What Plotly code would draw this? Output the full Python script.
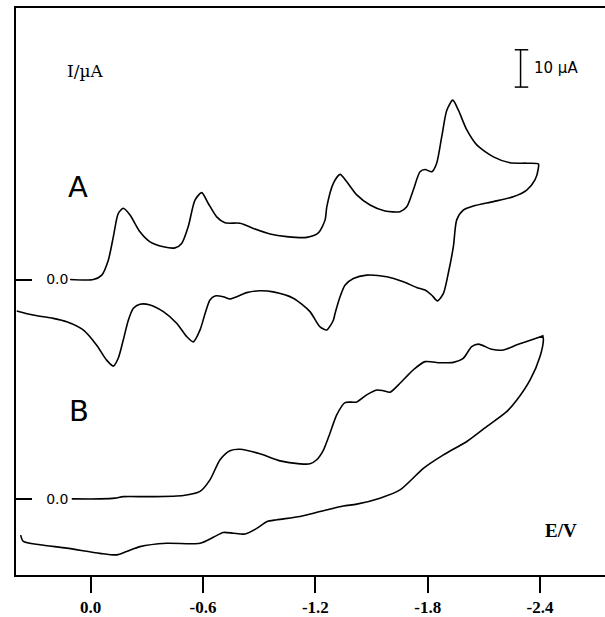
import plotly.graph_objects as go

# ---- Data (E in V, I in µA relative to each trace's own zero) ----
A_fwd_E = [0.11, -0.014, -0.059, -0.094, -0.121, -0.147, -0.174, -0.210, -0.263, -0.317,
           -0.388, -0.450, -0.486, -0.521, -0.557, -0.593, -0.628, -0.673, -0.717, -0.798,
           -0.869, -0.958, -1.047, -1.154, -1.216, -1.252, -1.261, -1.296, -1.332, -1.368,
           -1.421, -1.492, -1.572, -1.652, -1.688, -1.723, -1.759, -1.786, -1.822, -1.848,
           -1.875, -1.902, -1.934, -1.964, -2.009, -2.062, -2.151, -2.240, -2.329, -2.391]
A_fwd_I = [0.0, 0.0, 1.2, 5.2, 11.5, 17.7, 19.1, 17.3, 12.8, 10.1,
           8.8, 8.5, 9.7, 14.2, 21.3, 23.3, 20.4, 16.8, 15.2, 15.1,
           13.7, 12.2, 11.5, 11.3, 12.5, 16.0, 19.5, 25.8, 28.2, 26.2,
           22.7, 20.0, 18.4, 18.2, 19.5, 24.0, 28.9, 29.5, 28.9, 31.2,
           38.3, 45.4, 48.1, 45.4, 40.1, 36.1, 32.9, 31.3, 31.2, 31.0]

A_rev_E = [-2.391, -2.373, -2.329, -2.257, -2.151, -2.044, -1.990, -1.955, -1.937, -1.910,
           -1.884, -1.852, -1.822, -1.786, -1.741, -1.670, -1.581, -1.474, -1.403, -1.358,
           -1.332, -1.305, -1.296, -1.261, -1.225, -1.171, -1.082, -0.975, -0.904, -0.833,
           -0.780, -0.744, -0.708, -0.664, -0.637, -0.611, -0.584, -0.548, -0.513, -0.459,
           -0.388, -0.317, -0.263, -0.228, -0.201, -0.174, -0.147, -0.121, -0.085, -0.032,
           0.040, 0.128, 0.200, 0.307, 0.395]
A_rev_I = [29.8, 26.7, 24.0, 22.2, 20.9, 19.7, 18.6, 16.0, 8.8, 1.7,
           -3.7, -5.7, -4.2, -2.8, -2.1, -0.6, 0.75, 1.2, 0.3, -1.5,
           -4.6, -9.1, -10.9, -13.5, -12.7, -8.6, -5.0, -3.3, -3.0, -3.5,
           -4.6, -5.2, -4.6, -4.4, -5.5, -9.1, -13.5, -16.7, -15.3, -11.7,
           -8.6, -6.8, -6.6, -7.7, -10.9, -16.2, -21.1, -23.2, -21.6, -17.6,
           -13.5, -11.3, -10.4, -9.5, -8.4]

B_fwd_E = [0.101, -0.050, -0.130, -0.174, -0.317, -0.495, -0.584, -0.637, -0.691, -0.744,
           -0.798, -0.904, -1.011, -1.118, -1.171, -1.207, -1.243, -1.278, -1.314, -1.358,
           -1.421, -1.474, -1.528, -1.563, -1.599, -1.652, -1.723, -1.786, -1.866, -1.937,
           -1.990, -2.035, -2.071, -2.142, -2.204, -2.276, -2.364, -2.415]
B_fwd_I = [0.0, 0.0, 0.2, 0.6, 0.6, 0.9, 2.0, 5.1, 10.5, 12.9,
           13.3, 12.1, 10.2, 9.4, 9.4, 10.5, 13.1, 17.6, 22.5, 25.8,
           26.0, 27.9, 29.2, 29.0, 28.6, 31.0, 34.6, 36.8, 36.5, 36.6,
           37.7, 40.8, 41.5, 40.1, 39.9, 41.3, 42.8, 43.7]

B_rev_E = [-2.415, -2.418, -2.400, -2.347, -2.276, -2.222, -2.115, -2.009, -1.884, -1.777,
           -1.652, -1.545, -1.421, -1.349, -1.225, -1.118, -0.994, -0.940, -0.887, -0.824,
           -0.762, -0.708, -0.655, -0.584, -0.406, -0.263, -0.192, -0.139, -0.050, 0.128,
           0.271, 0.360, 0.374]
B_rev_I = [43.7, 42.6, 38.2, 31.9, 26.5, 23.4, 19.4, 15.4, 11.8, 8.2,
           2.4, 0.2, -1.4, -1.9, -3.4, -4.7, -5.6, -6.1, -7.9, -9.4,
           -9.2, -9.0, -10.3, -11.9, -11.9, -12.8, -14.1, -15.0, -14.6, -13.2,
           -12.3, -11.4, -9.7]

A_offset = 58.8   # µA: vertical offset of trace A above trace B
x_ticks = [0.0, -0.6, -1.2, -1.8, -2.4]
x_ticktext = ["0.0", "-0.6", "-1.2", "-1.8", "-2.4"]
y_ticks = [0.0, A_offset]
y_ticktext = ["0.0", "0.0"]
scale_bar_uA = 10

A_E = A_fwd_E + A_rev_E
A_I = [v + A_offset for v in A_fwd_I + A_rev_I]
B_E = B_fwd_E + B_rev_E
B_I = B_fwd_I + B_rev_I

fig = go.Figure()
line = dict(color="black", width=1.6, shape="spline", smoothing=0.7)
fig.add_trace(go.Scatter(x=A_E, y=A_I, mode="lines", line=line, name="A", showlegend=False,
                         hoverinfo="skip"))
fig.add_trace(go.Scatter(x=B_E, y=B_I, mode="lines", line=line, name="B", showlegend=False,
                         hoverinfo="skip"))

# scale bar (10 µA) near top right
sb_x = -2.296
sb_top = 120.4
fig.add_shape(type="line", x0=sb_x, x1=sb_x, y0=sb_top - scale_bar_uA, y1=sb_top,
              line=dict(color="black", width=1.5))
for yy in (sb_top, sb_top - scale_bar_uA):
    fig.add_shape(type="line", x0=sb_x + 0.031, x1=sb_x - 0.041, y0=yy, y1=yy,
                  line=dict(color="black", width=1.5))

fig.add_annotation(x=sb_x - 0.061, y=sb_top - scale_bar_uA / 2, text="10 µA", showarrow=False,
                   xanchor="left", yanchor="middle",
                   font=dict(family="DejaVu Sans", size=15, color="black"))
fig.add_annotation(x=0.030, y=114.6, text="I/µA", showarrow=False, xanchor="center",
                   yanchor="middle", font=dict(family="DejaVu Serif", size=17, color="black"))
fig.add_annotation(x=0.069, y=83.5, text="A", showarrow=False, xanchor="center",
                   yanchor="middle", font=dict(family="DejaVu Sans", size=29, color="black"))
fig.add_annotation(x=0.064, y=23.6, text="B", showarrow=False, xanchor="center",
                   yanchor="middle", font=dict(family="DejaVu Sans", size=29, color="black"))
fig.add_annotation(x=-2.512, y=-8.4, text="E/V", showarrow=False, xanchor="center",
                   yanchor="middle",
                   font=dict(family="Liberation Serif", size=19, color="black", weight="bold"))

fig.update_layout(
    width=605, height=617,
    margin=dict(l=16, r=0, t=8, b=42),
    paper_bgcolor="white", plot_bgcolor="white",
    xaxis=dict(range=[0.399, -2.747], tickvals=x_ticks, ticktext=x_ticktext,
               ticks="outside", ticklen=16, tickwidth=1.5, tickcolor="black",
               showgrid=False, zeroline=False, showline=True, linecolor="black",
               linewidth=2, mirror=True, automargin=False,
               tickfont=dict(family="Liberation Serif", size=17, color="black", weight="bold")),
    yaxis=dict(range=[-20.4, 131.6], tickvals=y_ticks, ticktext=y_ticktext,
               ticks="inside", ticklen=16, tickwidth=1.5, tickcolor="black",
               ticklabelposition="inside", ticklabelstandoff=14, automargin=False,
               showgrid=False, zeroline=False, showline=True, linecolor="black",
               linewidth=2,
               tickfont=dict(family="DejaVu Sans", size=14, color="black")),
)

fig.write_html("out.html", config={"displayModeBar": False},
               post_script="document.body.style.margin='0px';")
